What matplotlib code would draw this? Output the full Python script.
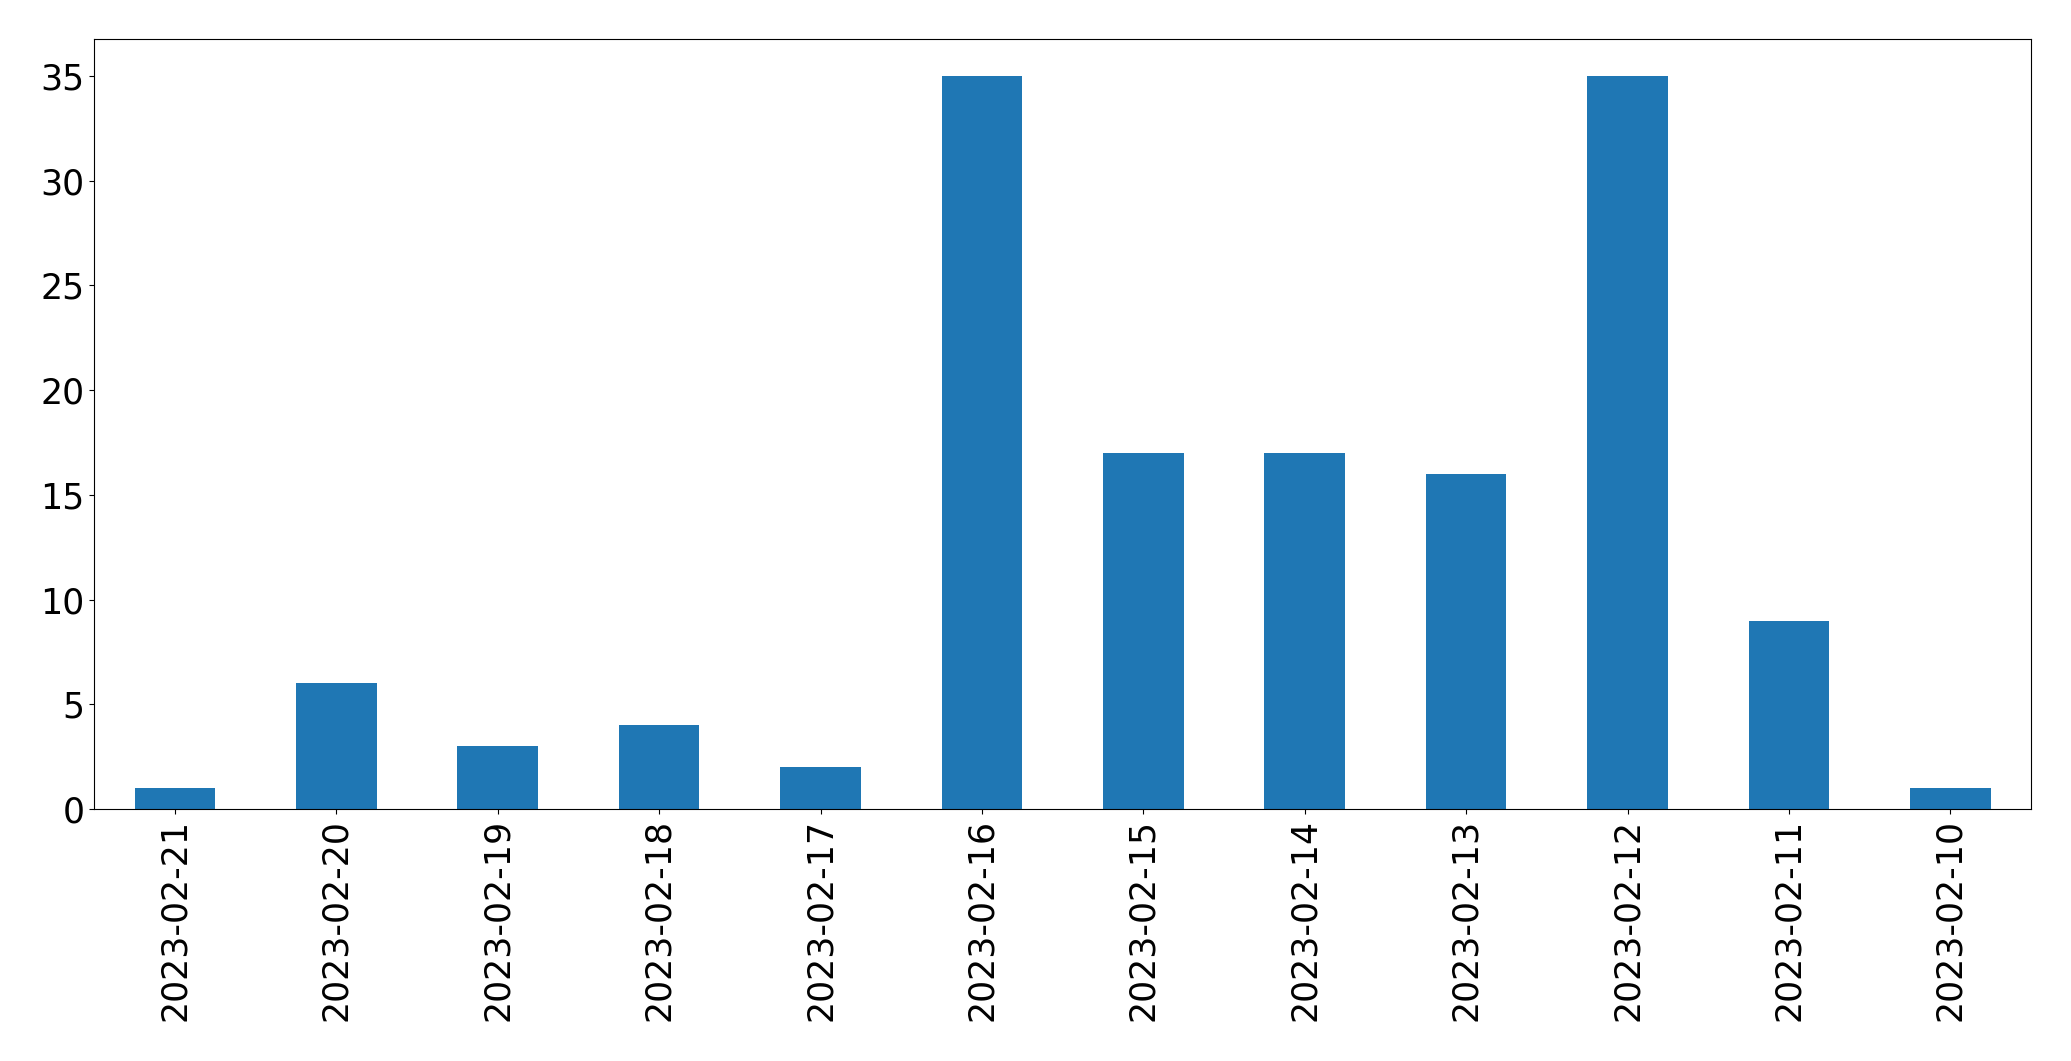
import matplotlib
matplotlib.use("Agg")
import matplotlib.pyplot as plt
import pandas as pd

dates = ["2023-02-21", "2023-02-20", "2023-02-19", "2023-02-18", "2023-02-17", "2023-02-16",
         "2023-02-15", "2023-02-14", "2023-02-13", "2023-02-12", "2023-02-11", "2023-02-10"]
counts = [1, 6, 3, 4, 2, 35, 17, 17, 16, 35, 9, 1]

s = pd.Series(counts, index=dates)

fig = plt.figure(figsize=(20.71, 10.61), dpi=100)
# axes box placed to match the reference
ax = fig.add_axes([0.0455, 0.2375, 0.9352, 0.7255])
s.plot(kind="bar", ax=ax, color="#1f77b4", fontsize=25)

plt.savefig("out.png", dpi=100)
